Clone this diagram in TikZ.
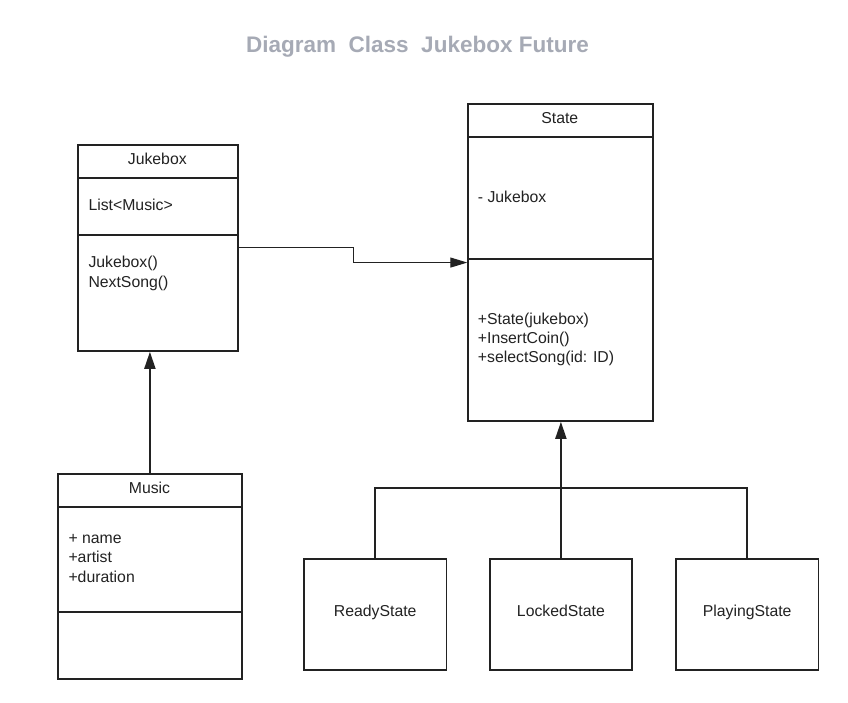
\documentclass[tikz,border=0pt]{standalone}
\usepackage{fontspec}
\setmainfont{Liberation Sans}
\usetikzlibrary{arrows.meta,calc}
\definecolor{titlegray}{RGB}{166,170,181}
\definecolor{ink}{RGB}{34,34,34}
\begin{document}
\begin{tikzpicture}[x=1pt,y=-1pt,
  classbox/.style={draw=ink,line width=1.8pt,rectangle,inner sep=0pt,anchor=north west},
  divider/.style={draw=ink,line width=1.8pt},
  txt/.style={inner sep=0pt,text=ink,font=\fontsize{15.8}{19}\selectfont},
  titletxt/.style={inner sep=0pt,text=titlegray,font=\fontsize{22.5}{26}\selectfont\bfseries},
  assoc/.style={draw=ink,line width=1.1pt,-{Triangle[length=17pt,width=10pt]}},
  inherit/.style={draw=ink,line width=2pt,-{Triangle[length=17pt,width=11pt]}},
  treeline/.style={draw=ink,line width=1.8pt}]
\useasboundingbox (0,0) rectangle (848,702);
\fill[white] (0,0) rectangle (848,702);

% title
\node[titletxt,anchor=base] (title) at (417.5,52.3) {Diagram\ \ Class\ \ Jukebox Future};

% Jukebox class
\node[classbox,minimum width=160pt,minimum height=206pt] (jb) at (77.3,144) {};
\draw[divider] (jb.west |- 0,177.7) -- (jb.east |- 0,177.7);
\draw[divider] (jb.west |- 0,235.3) -- (jb.east |- 0,235.3);
\node[txt,anchor=base] (jbname) at (157.3,164.8) {Jukebox};
\node[txt,anchor=base west] (jbattr) at (88.3,210.5) {List<Music>};
\node[txt,anchor=base west] (jbop1) at (88.3,267.8) {Jukebox()};
\node[txt,anchor=base west] (jbop2) at (88.3,287.2) {NextSong()};

% State class
\node[classbox,minimum width=185pt,minimum height=316.7pt] (st) at (467.3,103.3) {};
\draw[divider] (st.west |- 0,136.7) -- (st.east |- 0,136.7);
\draw[divider] (st.west |- 0,259) -- (st.east |- 0,259);
\node[txt,anchor=base] (stname) at (559.8,123.8) {State};
\node[txt,anchor=base west] (stattr) at (477.7,202.2) {- Jukebox};
\node[txt,anchor=base west] (stop1) at (477.7,324.8) {+State(jukebox)};
\node[txt,anchor=base west] (stop2) at (477.7,343.8) {+InsertCoin()};
\node[txt,anchor=base west] (stop3) at (477.7,362.6) {+selectSong(id: ID)};

% Music class
\node[classbox,minimum width=184pt,minimum height=205pt] (mu) at (57,473.3) {};
\draw[divider] (mu.west |- 0,506.7) -- (mu.east |- 0,506.7);
\draw[divider] (mu.west |- 0,611.7) -- (mu.east |- 0,611.7);
\node[txt,anchor=base] (muname) at (149.5,493.8) {Music};
\node[txt,anchor=base west] (mua1) at (68.3,543.8) {+ name};
\node[txt,anchor=base west] (mua2) at (68.3,562.8) {+artist};
\node[txt,anchor=base west] (mua3) at (68.3,582.2) {+duration};

% concrete states
\node[classbox,minimum width=142.6pt,minimum height=111pt] (rs) at (303,558) {};
\node[classbox,minimum width=142pt,minimum height=111pt] (ls) at (489,558) {};
\node[classbox,minimum width=142.5pt,minimum height=111pt] (ps) at (675,558) {};
\node[txt,anchor=base] (rslbl) at (rs.center |- 0,616.7) {ReadyState};
\node[txt,anchor=base] (lslbl) at (ls.center |- 0,616.7) {LockedState};
\node[txt,anchor=base] (pslbl) at (ps.center |- 0,616.7) {PlayingState};

% connectors
\coordinate (mid) at ($(jb.east)!.5!(st.west)$);
\draw[assoc] (jb.east) -- (jb.east -| mid) -- (mid |- st.west) -- (st.west);

\draw[inherit] (mu.north) -- (mu.north |- jb.south);

\coordinate (jn) at ($(ls.north)+(0,-70)$);
\draw[treeline] (rs.north) -- (rs.north |- jn) -- (ps.north |- jn) -- (ps.north);
\draw[inherit] (ls.north) -- (ls.north |- st.south);
\end{tikzpicture}
\end{document}
